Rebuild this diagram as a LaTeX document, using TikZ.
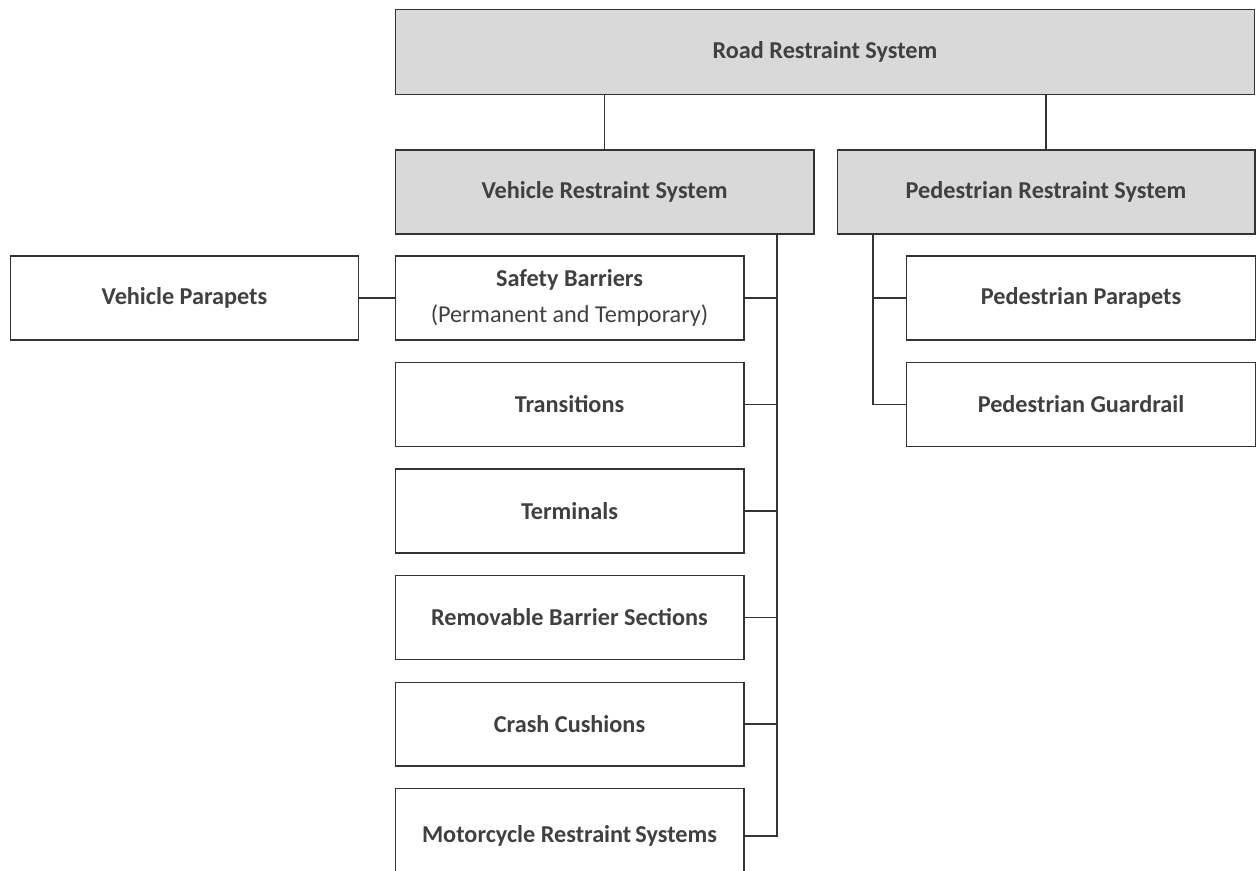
\documentclass[tikz,border=0pt]{standalone}
\usepackage{fontspec}
\setmainfont{Carlito}
\usepackage{xcolor}
\usetikzlibrary{positioning, calc}

\definecolor{boxgray}{HTML}{D9D9D9}
\definecolor{textgray}{HTML}{404040}

\begin{document}
\begin{tikzpicture}[
    x=0.02cm, y=-0.02cm,
    every node/.style={font=\fontsize{13.8}{20}\selectfont\bfseries, text=textgray},
    head/.style={draw=black!80, semithick, fill=boxgray, minimum height=1.7cm, align=center, inner sep=0pt},
    item/.style={draw=black!80, semithick, fill=white, minimum height=1.68cm, minimum width=6.98cm, align=center, inner sep=0pt},
    link/.style={draw=black!80, semithick},
  ]

  \useasboundingbox (0,0) rectangle (1256,870);
  \clip (0,0) rectangle (1256,870);

  % --- Headers ---
  \node[head, minimum width=17.2cm] (rrs) at (825,52) {Road Restraint System};
  \node[head, minimum width=8.38cm, minimum height=1.68cm] (vrs) at (604.5,192) {Vehicle Restraint System};
  \node[head, minimum width=8.36cm, minimum height=1.68cm] (prs) at (1046,192) {Pedestrian Restraint System};

  % --- Vehicle restraint items ---
  \node[item] (sb) at (569.5,298) {Safety Barriers\\{\mdseries (Permanent and Temporary)}};
  \node[item] (tr) at (569.5,404.5) {Transitions};
  \node[item] (te) at (569.5,511) {Terminals};
  \node[item] (rb) at (569.5,617.5) {Removable Barrier Sections};
  \node[item] (cc) at (569.5,724) {Crash Cushions};
  \node[item, minimum height=1.92cm] (mr) at (569.5,836) {Motorcycle Restraint\,Systems};
  \node[item] (vp) at (184.5,298) {Vehicle Parapets};

  % --- Pedestrian restraint items ---
  \node[item] (pp) at (1081,298) {Pedestrian Parapets};
  \node[item] (pg) at (1081,404.5) {Pedestrian Guardrail};

  % --- Spines ---
  \coordinate (vspine) at (777,234);
  \coordinate (pspine) at (873,234);

  % --- Connectors ---
  \draw[link] (rrs.south -| vrs) -- (vrs.north);
  \draw[link] (rrs.south -| prs) -- (prs.north);

  \draw[link] (vspine) |- (mr.east);
  \foreach \n in {sb, tr, te, rb, cc}
    \draw[link] (\n.east) -- (\n.east -| vspine);
  \draw[link] (vp.east) -- (sb.west);

  \draw[link] (pspine) |- (pg.west);
  \draw[link] (pp.west) -- (pp.west -| pspine);

\end{tikzpicture}
\end{document}
